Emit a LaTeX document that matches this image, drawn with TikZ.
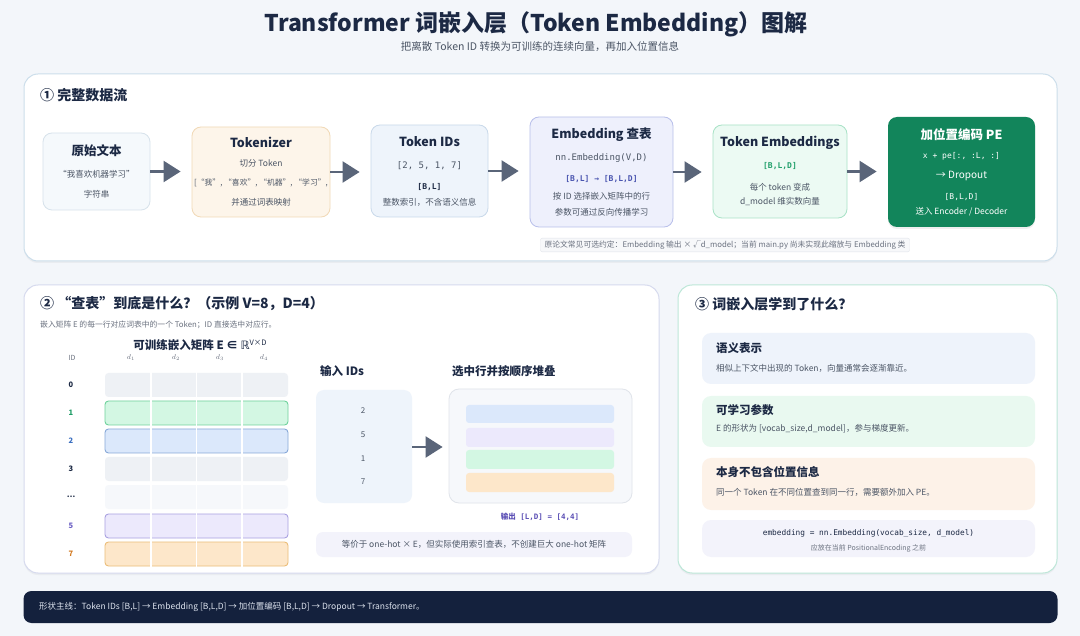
\documentclass[tikz,border=0pt]{standalone}
\usepackage{fontspec}
\setmainfont{Noto Sans CJK SC}
\newfontfamily\monof{DejaVu Sans Mono}
\newfontfamily\djv{DejaVu Sans}
\usetikzlibrary{arrows.meta,shadows}
\definecolor{bgc}{HTML}{F3F6FA}
\definecolor{darkc}{HTML}{1C2944}
\definecolor{grayc}{HTML}{4B5565}
\definecolor{lgray}{HTML}{6B7280}
\definecolor{arrc}{HTML}{5A6579}
\definecolor{p1b}{HTML}{CCDEEB}
\definecolor{p2b}{HTML}{D6DAEE}
\definecolor{p3b}{HTML}{BDE7D8}
\definecolor{rawf}{HTML}{F5F9FC}\definecolor{rawb}{HTML}{D7E2EB}
\definecolor{tokf}{HTML}{FDF5EA}\definecolor{tokb}{HTML}{F1D9B6}
\definecolor{idf}{HTML}{EEF4FB}\definecolor{idb}{HTML}{C9D9EA}
\definecolor{embf}{HTML}{EEF0FC}\definecolor{embb}{HTML}{B8BFEA}
\definecolor{tef}{HTML}{ECFAF3}\definecolor{teb}{HTML}{A8E2C6}
\definecolor{pef}{HTML}{12855B}
\definecolor{embtxt}{HTML}{4A55B0}
\definecolor{gtxt}{HTML}{22A06B}
\definecolor{celln}{HTML}{EEF1F5}
\definecolor{cellv}{HTML}{F6F8FB}
\definecolor{gfill}{HTML}{D3F7E3}\definecolor{gbord}{HTML}{6FD29C}
\definecolor{bfill}{HTML}{DBE8FB}\definecolor{bbord}{HTML}{87A8D8}
\definecolor{vfill}{HTML}{ECE9FC}\definecolor{vbord}{HTML}{A9A1E0}
\definecolor{ofill}{HTML}{FDE7CA}\definecolor{obord}{HTML}{EBBD78}
\definecolor{labg}{HTML}{1F9D67}
\definecolor{labb}{HTML}{3B6FC0}
\definecolor{labv}{HTML}{6B5FC4}
\definecolor{labo}{HTML}{D2781E}
\definecolor{outc}{HTML}{5B4FB5}
\definecolor{c1f}{HTML}{EEF3FB}
\definecolor{c2f}{HTML}{E9F9F0}
\definecolor{c3f}{HTML}{FDF2E8}
\definecolor{c4f}{HTML}{F3F3FB}
\definecolor{barc}{HTML}{14213D}
\definecolor{bartxt}{HTML}{DDE3EE}
\definecolor{notef}{HTML}{F7F8FA}\definecolor{noteb}{HTML}{E0E4EA}
\begin{document}
\begin{tikzpicture}[x=1pt,y=-1pt,
  flowarrow/.style={draw=arrc, line width=2.2pt, -{Triangle[length=17pt,width=21pt]}, shorten >=11pt},
  flowbox/.style={rounded corners=9pt, line width=0.8pt, inner sep=0},
  ttl/.style={font=\bfseries\fontsize{12.5}{14}\selectfont, text=darkc, inner sep=0},
  sm/.style={font=\fontsize{8.5}{10}\selectfont, text=grayc, inner sep=0},
  mono/.style={font=\monof\fontsize{8.5}{10}\selectfont, text=grayc, inner sep=0},
  panel/.style={fill=white, rounded corners=14pt, line width=1pt, drop shadow={shadow xshift=0pt, shadow yshift=-2pt, opacity=0.08}},
  hdr/.style={font=\bfseries\fontsize{14}{16}\selectfont, text=darkc, anchor=west, inner sep=0},
  card/.style={rounded corners=9pt, inner sep=0},
  ctitle/.style={font=\bfseries\fontsize{11.5}{13}\selectfont, text=darkc, anchor=west, inner sep=0},
  ctext/.style={font=\fontsize{8.5}{10}\selectfont, text=grayc, anchor=west, inner sep=0},
]
\useasboundingbox (0,0) rectangle (1080,636);
\fill[bgc] (0,0) rectangle (1080,636);

% Title
\node[font=\bfseries\fontsize{23}{27}\selectfont, text=darkc, inner sep=0] (title) at (536,24) {Transformer 词嵌入层（Token Embedding）图解};
\node[font=\fontsize{10.5}{12}\selectfont, text=grayc, inner sep=0] (subtitle) at (540,47) {把离散 Token ID 转换为可训练的连续向量，再加入位置信息};

% Panel 1
\path[panel, draw=p1b] (24,74) rectangle (1057,261);
\node[hdr] (h1) at (40,95) {① 完整数据流};

\node[flowbox, draw=rawb, fill=rawf, minimum width=107pt, minimum height=77pt] (raw) at (96.5,171.5) {};
\node[ttl] (rawt) at (96.5,151) {原始文本};
\node[sm] (rawa) at (96.5,174) {“我喜欢机器学习”};
\node[sm] (rawb2) at (96.5,194) {字符串};

\node[flowbox, draw=tokb, fill=tokf, minimum width=138pt, minimum height=90pt] (tok) at (261,172) {};
\node[ttl] (tokt) at (261,142) {Tokenizer};
\node[sm] (toka) at (261,163) {切分 Token};
\node[sm, font=\fontsize{7.8}{9}\selectfont] (tokb2) at (261,183) {[“我”, “喜欢”, “机器”, “学习”,};
\node[sm] (tokc) at (261,202) {并通过词表映射};

\node[flowbox, draw=idb, fill=idf, minimum width=117pt, minimum height=92pt] (ids) at (429.5,171) {};
\node[ttl] (idst) at (429.5,142) {Token IDs};
\node[mono, font=\monof\fontsize{9}{10}\selectfont] (idsa) at (429.5,166) {[2, 5, 1, 7]};
\node[mono, font=\monof\bfseries\fontsize{8}{9}\selectfont, text=darkc] (idsb) at (429.5,187) {[B,L]};
\node[sm] (idsc) at (429.5,202) {整数索引，不含语义信息};

\node[flowbox, draw=embb, fill=embf, minimum width=143pt, minimum height=110pt] (emb) at (601.5,172) {};
\node[ttl] (embt) at (601.5,135) {Embedding 查表};
\node[mono, font=\monof\fontsize{9}{10}\selectfont] (emba) at (601.5,158) {nn.Embedding(V,D)};
\node[mono, font=\monof\bfseries\fontsize{8}{9}\selectfont, text=embtxt] (embb2) at (601.5,179) {[B,L] → [B,L,D]};
\node[sm] (embc) at (601.5,196) {按 ID 选择嵌入矩阵中的行};
\node[sm] (embd) at (601.5,212) {参数可通过反向传播学习};

\node[flowbox, draw=teb, fill=tef, minimum width=134pt, minimum height=93pt] (te) at (780,171.5) {};
\node[ttl] (tet) at (780,143) {Token Embeddings};
\node[mono, font=\monof\bfseries\fontsize{8}{9}\selectfont, text=gtxt] (tea) at (780,166) {[B,L,D]};
\node[sm] (teb2) at (780,187) {每个 token 变成};
\node[sm] (tec) at (780,201) {d\_model 维实数向量};

\node[flowbox, fill=pef, minimum width=147pt, minimum height=110pt, drop shadow={shadow xshift=0pt, shadow yshift=-2pt, opacity=0.12}] (pe) at (961.5,172) {};
\node[ttl, text=white] (pet) at (961.5,135) {加位置编码 PE};
\node[mono, text=white, font=\monof\fontsize{8}{9}\selectfont] (pea) at (961.5,156) {x + pe[:, :L, :]};
\node[sm, text=white, font=\fontsize{10}{12}\selectfont] (peb) at (961.5,176) {→ Dropout};
\node[mono, text=white, font=\monof\fontsize{8}{9}\selectfont] (pec) at (961.5,197) {[B,L,D]};
\node[sm, text=white] (ped) at (961.5,212) {送入 Encoder / Decoder};

\draw[flowarrow] (raw.east) -- (raw.east -| tok.west);
\draw[flowarrow] (tok.east) -- (tok.east -| ids.west);
\draw[flowarrow] (ids.east) -- (ids.east -| emb.west);
\draw[flowarrow] (emb.east) -- (emb.east -| te.west);
\draw[flowarrow] (te.east) -- (te.east -| pe.west);

\node[draw=noteb, fill=notef, rounded corners=2pt, inner xsep=4pt, inner ysep=2.5pt, font=\fontsize{7.8}{9}\selectfont, text=lgray] (note) at (725,245) {原论文常见可选约定：Embedding 输出 × √d\_model；当前 main.py 尚未实现此缩放与 Embedding 类};

% Panel 2
\path[panel, draw=p2b] (24,285) rectangle (659,573);
\node[hdr] (h2) at (40,304) {② “查表”到底是什么？（示例 V=8，D=4）};
\node[font=\fontsize{7.8}{9}\selectfont, text=lgray, anchor=west, inner sep=0] (h2s) at (40,325) {嵌入矩阵 E 的每一行对应词表中的一个 Token；ID 直接选中对应行。};
\node[font=\bfseries\fontsize{11.5}{13}\selectfont, text=darkc, inner sep=0] (mt) at (200,345) {可训练嵌入矩阵 E ∈ {\djv\mdseries ℝ}\raisebox{4pt}{\mdseries\fontsize{7.5}{8}\selectfont V×D}};
\node[font=\fontsize{7}{8}\selectfont, text=lgray, inner sep=0] (cid) at (72,358) {ID};
\node[font=\itshape\fontsize{7.5}{8}\selectfont, text=lgray, inner sep=0] (cd1) at (131,358) {$d_1$};
\node[font=\itshape\fontsize{7.5}{8}\selectfont, text=lgray, inner sep=0] (cd2) at (176,358) {$d_2$};
\node[font=\itshape\fontsize{7.5}{8}\selectfont, text=lgray, inner sep=0] (cd3) at (220,358) {$d_3$};
\node[font=\itshape\fontsize{7.5}{8}\selectfont, text=lgray, inner sep=0] (cd4) at (264,358) {$d_4$};

\foreach \y/\nm/\lab/\fc/\bc/\lc in {385/r0/0/celln/none/darkc, 413/r1/1/gfill/gbord/labg, 441/r2/2/bfill/bbord/labb, 469/r3/3/celln/none/darkc, 497/rd/…/cellv/none/darkc, 526/r5/5/vfill/vbord/labv, 554/r7/7/ofill/obord/labo}{
  \path[fill=\fc, draw=\bc, rounded corners=3.5pt, line width=0.9pt] (105,\y-12) rectangle (288,\y+12);
  \foreach \cx in {150.75,196.5,242.25}{\draw[white, line width=1.8pt] (\cx,\y-13) -- (\cx,\y+13);}
  \node[font=\bfseries\fontsize{7.5}{8}\selectfont, text=\lc, inner sep=0] (\nm) at (71,\y) {\lab};
}

\node[font=\bfseries\fontsize{11.5}{13}\selectfont, text=darkc, anchor=west, inner sep=0] (inl) at (320,371) {输入 IDs};
\node[fill=idf, rounded corners=8pt, minimum width=96pt, minimum height=113pt, inner sep=0] (inbox) at (364,446.5) {};
\node[font=\fontsize{8}{9}\selectfont, text=grayc, inner sep=0] (i1) at (363,411) {2};
\node[font=\fontsize{8}{9}\selectfont, text=grayc, inner sep=0] (i2) at (363,435) {5};
\node[font=\fontsize{8}{9}\selectfont, text=grayc, inner sep=0] (i3) at (363,459) {1};
\node[font=\fontsize{8}{9}\selectfont, text=grayc, inner sep=0] (i4) at (363,482) {7};

\node[font=\bfseries\fontsize{11.5}{13}\selectfont, text=darkc, anchor=west, inner sep=0] (outl) at (452,371) {选中行并按顺序堆叠};
\node[draw=noteb, fill=cellv, rounded corners=10pt, line width=0.8pt, minimum width=183pt, minimum height=114pt, inner sep=0] (outbox) at (540.5,446) {};
\fill[bfill, rounded corners=3pt] (466,405) rectangle (614,423);
\fill[vfill, rounded corners=3pt] (466,428) rectangle (614,447);
\fill[gfill, rounded corners=3pt] (466,450) rectangle (614,469);
\fill[ofill, rounded corners=3pt] (466,473) rectangle (614,492);

\draw[flowarrow, shorten >=6pt] (inbox.east |- 0,447) -- (outbox.west |- 0,447);

\node[font=\monof\bfseries\fontsize{7.5}{9}\selectfont, text=outc, inner sep=0] (outtxt) at (540,517) {{\fontspec{Noto Sans CJK SC}\bfseries 输出} [L,D] = [4,4]};
\node[fill=c4f, rounded corners=7pt, minimum width=316pt, minimum height=25pt, inner sep=0, font=\fontsize{8.5}{10}\selectfont, text=grayc] (eq) at (474,544.5) {等价于 one-hot × E，但实际使用索引查表，不创建巨大 one-hot 矩阵};

% Panel 3
\path[panel, draw=p3b] (678,285) rectangle (1057,573);
\node[hdr] (h3) at (695,304) {③ 词嵌入层学到了什么？};

\node[card, fill=c1f, minimum width=333pt, minimum height=51pt] (card1) at (868.5,358.5) {};
\node[ctitle] (c1t) at (716,348) {语义表示};
\node[ctext] (c1x) at (716,368) {相似上下文中出现的 Token，向量通常会逐渐靠近。};

\node[card, fill=c2f, minimum width=333pt, minimum height=51pt] (card2) at (868.5,421.5) {};
\node[ctitle] (c2t) at (716,410) {可学习参数};
\node[ctext] (c2x) at (716,429) {E 的形状为 [vocab\_size,d\_model]，参与梯度更新。};

\node[card, fill=c3f, minimum width=333pt, minimum height=52pt] (card3) at (868.5,484) {};
\node[ctitle] (c3t) at (716,472) {本身不包含位置信息};
\node[ctext] (c3x) at (716,492) {同一个 Token 在不同位置查到同一行，需要额外加入 PE。};

\node[card, fill=c4f, minimum width=333pt, minimum height=37pt] (card4) at (868.5,538.5) {};
\node[font=\monof\fontsize{7.8}{9}\selectfont, text=darkc, inner sep=0] (code) at (868.5,533) {embedding = nn.Embedding(vocab\_size, d\_model)};
\node[font=\fontsize{7}{8}\selectfont, text=lgray, inner sep=0] (codes) at (868.5,548) {应放在当前 PositionalEncoding 之前};

% Bottom bar
\node[fill=barc, rounded corners=8pt, minimum width=1034pt, minimum height=32pt, inner sep=0] (bar) at (540.5,607) {};
\node[font=\fontsize{8.5}{10}\selectfont, text=bartxt, anchor=west, inner sep=0] (bart) at (39,607) {形状主线：Token IDs [B,L] → Embedding [B,L,D] → 加位置编码 [B,L,D] → Dropout → Transformer。};
\end{tikzpicture}
\end{document}
